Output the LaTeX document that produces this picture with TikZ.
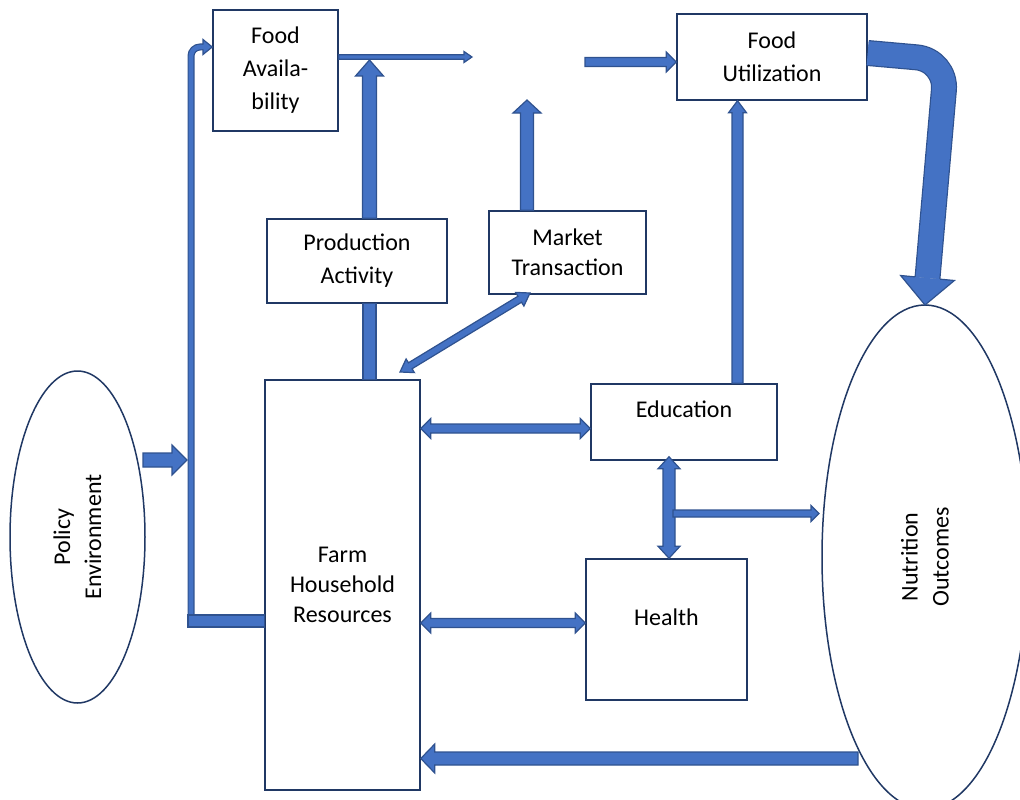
\documentclass[tikz,border=0pt]{standalone}
\usepackage{fontspec}
\setmainfont{Carlito}
\usetikzlibrary{calc,shapes.geometric}

\definecolor{boxline}{HTML}{203864}
\definecolor{arrline}{HTML}{2F528F}
\definecolor{arrfill}{HTML}{4472C4}

% block arrow from #1 to #2: shaft half width #3, head half width #4, head length #5
\newcommand{\blockarrow}[5]{%
  \coordinate (hb) at ($(#2)!#5!(#1)$);
  \filldraw[barrow] ($(#1)!#3!90:(#2)$) -- ($(hb)!#3!90:(#2)$) -- ($(hb)!#4!90:(#2)$) -- (#2)
    -- ($(hb)!#4!-90:(#2)$) -- ($(hb)!#3!-90:(#2)$) -- ($(#1)!#3!-90:(#2)$) -- cycle;}
% block arrow with heads on both ends
\newcommand{\dblarrow}[5]{%
  \coordinate (ha) at ($(#1)!#5!(#2)$);
  \coordinate (hb) at ($(#2)!#5!(#1)$);
  \filldraw[barrow] (#1) -- ($(ha)!#4!90:(#2)$) -- ($(ha)!#3!90:(#2)$) -- ($(hb)!#3!90:(#2)$)
    -- ($(hb)!#4!90:(#2)$) -- (#2) -- ($(hb)!#4!-90:(#2)$) -- ($(hb)!#3!-90:(#2)$)
    -- ($(ha)!#3!-90:(#2)$) -- ($(ha)!#4!-90:(#2)$) -- cycle;}
% plain bar from #1 to #2, half width #3
\newcommand{\blockbar}[3]{%
  \filldraw[barrow] ($(#1)!#3!90:(#2)$) -- ($(#2)!#3!-90:(#1)$) -- ($(#2)!#3!90:(#1)$)
    -- ($(#1)!#3!-90:(#2)$) -- cycle;}

\begin{document}
\begin{tikzpicture}[x=1pt, y=-1pt, font=\fontsize{24}{33}\selectfont,
  box/.style={draw=boxline, line width=1.5pt, fill=white, inner sep=0pt, align=center},
  oval/.style={ellipse, draw=boxline, line width=1.5pt, fill=white, inner sep=0pt},
  barrow/.style={fill=arrfill, draw=arrline, line width=1.2pt, line join=miter}]
\useasboundingbox (0,0) rectangle (1020,800);

% boxes and ovals
\node[box, minimum width=125pt, minimum height=121pt] (fa) at (275.5,70.5) {Food\\Availa-\\bility};
\node[box, minimum width=190pt, minimum height=86pt] (fu) at (772,57) {Food\\Utilization};
\node[box, minimum width=180pt, minimum height=84pt] (pa) at (357,261) {Production\\Activity};
\node[box, minimum width=157pt, minimum height=83pt, font=\fontsize{24}{30}\selectfont] (mt) at (567.5,252.5) {Market\\Transaction};
\node[box, minimum width=186pt, minimum height=76pt] (edu) at (684,422) {};
\node (edutxt) at ($(edu.north)+(0,26)$) {Education};
\node[box, minimum width=161pt, minimum height=141pt] (hl) at (666.5,629.5) {};
\node (hltxt) at ($(hl.north)+(0,59)$) {Health};
\node[box, minimum width=155pt, minimum height=410pt, font=\fontsize{24}{30}\selectfont] (farm) at (342.5,585) {Farm\\Household\\Resources};
\node[oval, minimum width=135pt, minimum height=332pt] (pol) at (77.5,537) {};
\node[rotate=90, align=center, font=\fontsize{24}{31}\selectfont] (poltxt) at (pol.center) {Policy\\Environment};
\node[oval, minimum width=206pt, minimum height=504pt] (nut) at (925,557) {};
\node[rotate=90, align=center, font=\fontsize{24}{31}\selectfont] (nuttxt) at (nut.center) {Nutrition\\Outcomes};

% free ends and guide points
\coordinate (avout) at (472,57);
\coordinate (fuin) at (585,62);
\coordinate (px) at (369.5,60);
\coordinate (mx) at (527,100);
\coordinate (ex) at (737.5,0);
\coordinate (cx) at (669,0);
\coordinate (r1) at (0,428.5);
\coordinate (r2) at (0,623);
\coordinate (dg1) at (400,372);
\coordinate (dg2) at (530,293);
\coordinate (nbr) at (673,513.5);
\coordinate (ntip) at (819,513.5);
\coordinate (nback) at (858,758.5);
\coordinate (pl0) at (143,460);
\coordinate (pl1) at (187,460);
\coordinate (lb) at (188,621);
\coordinate (elb0) at (191,615);
\coordinate (elb1) at (191,47);
\coordinate (elb2) at (203,47);
\coordinate (bg1) at (946.5,60);
\coordinate (bgb) at (927.5,278);
\coordinate (bgt) at (925,305);

% production and market
\coordinate (pa1) at (pa.north -| px);
\blockarrow{pa1}{px}{7pt}{14pt}{16pt}
\coordinate (pa2) at (pa.south -| px);
\coordinate (fm1) at (farm.north -| px);
\blockbar{pa2}{fm1}{6.5pt}
\coordinate (mt1) at (mt.north -| mx);
\blockarrow{mt1}{mx}{6.5pt}{14pt}{13pt}
\dblarrow{dg1}{dg2}{3.5pt}{8pt}{12pt}

% top row
\coordinate (fa1) at (fa.east |- avout);
\blockarrow{fa1}{avout}{2.2pt}{5.5pt}{8pt}
\coordinate (fu1) at (fu.west |- fuin);
\blockarrow{fuin}{fu1}{4.5pt}{10pt}{10pt}
\coordinate (ed1) at (edu.north -| ex);
\coordinate (fu2) at (fu.south -| ex);
\blockarrow{ed1}{fu2}{5.5pt}{9pt}{12pt}

% farm links
\coordinate (fm2) at (farm.east |- r1);
\coordinate (ed2) at (edu.west |- r1);
\dblarrow{fm2}{ed2}{4.5pt}{10pt}{10pt}
\coordinate (fm3) at (farm.east |- r2);
\coordinate (hl1) at (hl.west |- r2);
\dblarrow{fm3}{hl1}{4.5pt}{10pt}{10pt}
\coordinate (ed3) at ($(edu.south -| cx)+(0,-4)$);
\coordinate (hl2) at (hl.north -| cx);
\dblarrow{ed3}{hl2}{6pt}{11pt}{12pt}
\blockarrow{nbr}{ntip}{3.5pt}{8pt}{8pt}
\coordinate (fm4) at (farm.east |- nback);
\blockarrow{nback}{fm4}{6.5pt}{14.5pt}{14pt}

% policy side
\draw[draw=arrline, line width=1.2pt, double=arrfill, double distance=4.6pt, rounded corners=9pt]
  (elb0) -- (elb1) -- (elb2);
\coordinate (fa2) at (fa.west |- elb2);
\filldraw[barrow] ($(elb2)+(0,-2.3)$) -- ($(elb2)+(0,-7.5)$) -- (fa2) -- ($(elb2)+(0,7.5)$) -- ($(elb2)+(0,2.3)$);
\coordinate (fm5) at (farm.west |- lb);
\blockbar{lb}{fm5}{6pt}
\blockarrow{pl0}{pl1}{7pt}{15pt}{15pt}

% big bent arrow to outcomes
\coordinate (fu3) at (fu.east |- 0,53);
\draw[draw=arrline, line width=1.2pt, double=arrfill, double distance=23.6pt, rounded corners=30pt]
  (fu3) -- (bg1) -- (bgb);
\filldraw[barrow] ($(bgb)!12.6pt!90:(bgt)$) -- ($(bgb)!27pt!90:(bgt)$) -- (bgt)
  -- ($(bgb)!27pt!-90:(bgt)$) -- ($(bgb)!12.6pt!-90:(bgt)$);
\end{tikzpicture}
\end{document}
